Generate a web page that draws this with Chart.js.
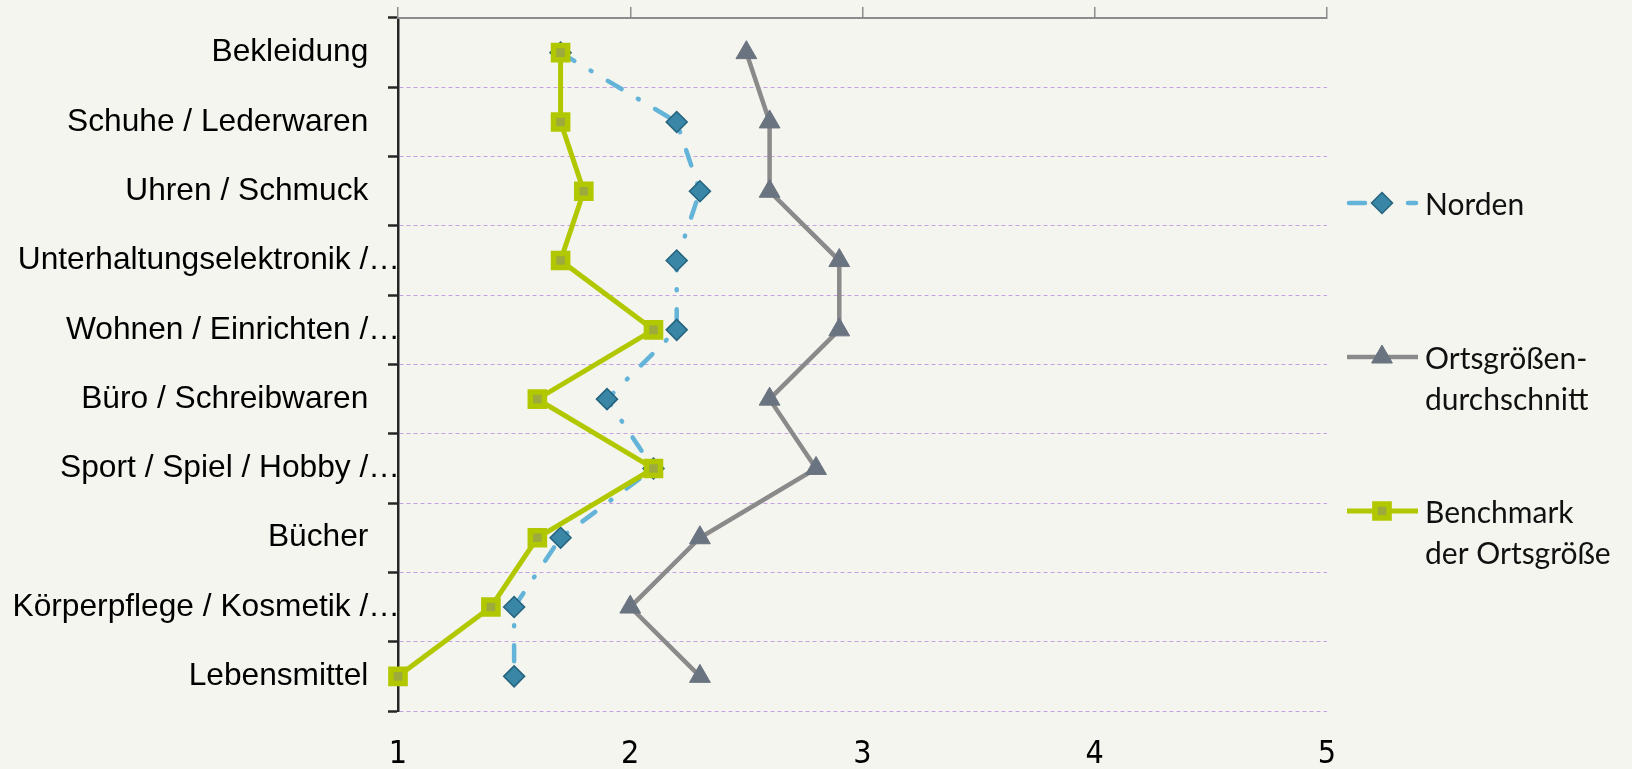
<!DOCTYPE html>
<html><head><meta charset="utf-8">
<script src="https://cdn.jsdelivr.net/npm/chart.js@4.4.1/dist/chart.umd.min.js"></script>
<style>html,body{margin:0;padding:0;background:#f5f5ef;} canvas{display:block;}</style>
</head><body>
<canvas id="c" width="1632" height="769" style="width:1632px;height:769px"></canvas>
<script>
const categories = ['Bekleidung', 'Schuhe / Lederwaren', 'Uhren / Schmuck', 'Unterhaltungselektronik /…', 'Wohnen / Einrichten /…', 'Büro / Schreibwaren', 'Sport / Spiel / Hobby /…', 'Bücher', 'Körperpflege / Kosmetik /…', 'Lebensmittel'];
const norden = [1.7, 2.2, 2.3, 2.2, 2.2, 1.9, 2.1, 1.7, 1.5, 1.5];
const ortsgroesse = [2.5, 2.6, 2.6, 2.9, 2.9, 2.6, 2.8, 2.3, 2.0, 2.3];
const benchmark = [1.7, 1.7, 1.8, 1.7, 2.1, 1.6, 2.1, 1.6, 1.4, 1.0];
const xMin = 1, xMax = 5, xStep = 1;
const legendLines = [['Norden'], ['Ortsgrößen-', 'durchschnitt'], ['Benchmark', 'der Ortsgröße']];

const BG = '#f5f5ef';
const labelFont = '"Liberation Sans", Arial, sans-serif';

const bgPlugin = {
  id: 'bg',
  beforeDraw(chart) {
    const ctx = chart.ctx;
    ctx.save();
    ctx.fillStyle = BG;
    ctx.fillRect(0, 0, chart.width, chart.height);
    ctx.restore();
  }
};

const legendPlugin = {
  id: 'customLegend',
  afterDraw(chart) {
    const ctx = chart.ctx;
    const rowsY = [203, 357, 511];
    const x0 = 1347, x1 = 1418, xm = 1382, xt = 1425;
    chart.data.datasets.forEach((ds, i) => {
      const y = rowsY[i];
      ctx.save();
      ctx.strokeStyle = ds.borderColor;
      ctx.lineWidth = ds.borderWidth;
      ctx.lineCap = 'round';
      ctx.beginPath();
      if (ds.borderDash) {
        ctx.moveTo(x0 + 2, y); ctx.lineTo(x0 + 18, y);
        ctx.moveTo(x1 - 10, y); ctx.lineTo(x1 - 2, y);
      } else {
        ctx.lineCap = 'butt';
        ctx.moveTo(x0, y); ctx.lineTo(x1, y);
      }
      ctx.stroke();
      ctx.fillStyle = ds.pointBackgroundColor;
      ctx.strokeStyle = ds.pointBorderColor;
      ctx.lineWidth = ds.pointBorderWidth;
      Chart.helpers.drawPoint(ctx, {pointStyle: ds.pointStyle, radius: ds.pointRadius, borderWidth: ds.pointBorderWidth, rotation: 0}, xm, y);
      ctx.fillStyle = '#111';
      ctx.font = '30px Lato, "Noto Sans", sans-serif';
      ctx.textAlign = 'left';
      ctx.textBaseline = 'middle';
      legendLines[i].forEach((t, j) => ctx.fillText(t, xt, y + 2 + j * 41));
      ctx.restore();
    });
  }
};

new Chart(document.getElementById('c'), {
  type: 'line',
  data: {
    labels: categories,
    datasets: [
      {
        label: 'Norden', data: norden, order: 1, clip: false,
        borderColor: '#63b4d8', borderWidth: 4.5, borderDash: [16, 19, 1, 19], borderCapStyle: 'round',
        pointStyle: 'rectRot', pointRadius: 10.5, pointBackgroundColor: '#3a86a6', pointBorderColor: '#24637e', pointBorderWidth: 1.5,
        tension: 0, fill: false
      },
      {
        label: 'Ortsgrößendurchschnitt', data: ortsgroesse, order: 2, clip: false,
        borderColor: '#8a8a8a', borderWidth: 4.5,
        pointStyle: 'triangle', pointRadius: 12, pointBackgroundColor: '#6a7480', pointBorderColor: '#6a7480', pointBorderWidth: 1,
        tension: 0, fill: false
      },
      {
        label: 'Benchmark der Ortsgröße', data: benchmark, order: 0, clip: false,
        borderColor: '#b1c800', borderWidth: 5,
        pointStyle: 'rect', pointRadius: 10, pointBackgroundColor: '#9cab3c', pointBorderColor: '#b1c800', pointBorderWidth: 5.5,
        tension: 0, fill: false
      }
    ]
  },
  options: {
    indexAxis: 'y',
    responsive: false,
    animation: false,
    devicePixelRatio: 1,
    events: [],
    layout: { padding: { left: 0, right: 305, top: 0, bottom: 0 } },
    plugins: { legend: { display: false }, tooltip: { enabled: false } },
    scales: {
      y: {
        type: 'category', offset: true, position: 'left',
        grid: { offset: true, color: '#c7a0e2', lineWidth: 1, tickColor: '#262626', tickWidth: 2.5, tickLength: 10, tickBorderDash: [] },
        border: { display: true, color: '#262626', width: 2.5, dash: [4, 3] },
        ticks: {
          autoSkip: false, padding: -12, color: '#000',
          font: { family: labelFont, size: 31.7 },
          callback: function (v, i) { const l = categories[i]; return l.endsWith('…') ? l : l + '\u2002\u2002'; }
        },
        afterFit(s) { s.width = 398; }
      },
      x: {
        type: 'linear', position: 'top', min: xMin, max: xMax,
        grid: { drawOnChartArea: false, color: '#8c8c8c', lineWidth: 1.5, tickLength: 11 },
        border: { display: true, color: '#8c8c8c', width: 2 },
        ticks: { display: false, stepSize: xStep },
        afterFit(s) { s.height = 18; }
      },
      x2: {
        type: 'linear', position: 'bottom', min: xMin, max: xMax,
        grid: { display: false, drawTicks: false },
        border: { display: false },
        ticks: { stepSize: xStep, padding: 24, color: '#000', font: { family: '"Liberation Sans Narrow", "DejaVu Sans Condensed", sans-serif', size: 32 } },
        afterFit(s) { s.height = 58; }
      }
    }
  },
  plugins: [bgPlugin, legendPlugin]
});
</script>
</body></html>
